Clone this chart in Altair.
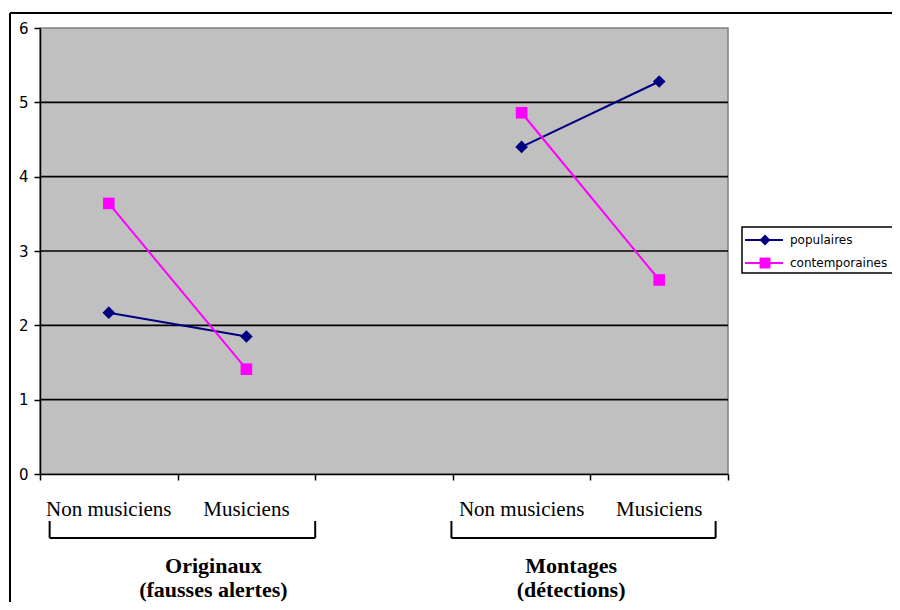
import altair as alt
import pandas as pd

# ---- data ----
series = ["populaires", "contemporaines"]
slot = [0, 1, 3, 4]                      # category slot (slot 2 is the empty gap)
group = ["Originaux", "Originaux", "Montages", "Montages"]
cat_labels = ["Non musiciens", "Musiciens", "Non musiciens", "Musiciens"]
populaires = [2.17, 1.85, 4.40, 5.28]
contemporaines = [3.64, 1.41, 4.86, 2.61]
y_ticks = [0, 1, 2, 3, 4, 5, 6]
gridlines = [1, 2, 3, 4, 5]
group_titles = ["Originaux", "Montages"]
group_subtitles = ["(fausses alertes)", "(détections)"]

rows = []
for name, vals in zip(series, [populaires, contemporaines]):
    for s, g, v in zip(slot, group, vals):
        rows.append({"series": name, "pos": s + 0.5, "group": g, "value": v})
df = pd.DataFrame(rows)

lab_df = pd.DataFrame({"pos": [s + 0.5 for s in slot], "label": cat_labels})
title_df = pd.DataFrame({"pos": [1.26, 3.86], "t1": group_titles, "t2": group_subtitles})
bracket_df = pd.DataFrame({"x0": [0.07, 2.99], "x1": [2.0, 4.91]})
grid_df = pd.DataFrame({"value": gridlines})
one = pd.DataFrame({"a": [0]})

xs = alt.Scale(domain=[0, 5], nice=False, zero=False)
ys = alt.Scale(domain=[0, 6], nice=False)
col = alt.Scale(domain=series, range=["#000080", "#ff00ff"])

X = alt.X("pos:Q", scale=xs,
          axis=alt.Axis(values=[0, 1, 2, 3, 4, 5], labels=False, grid=False, title=None))
Y = alt.Y("value:Q", scale=ys,
          axis=alt.Axis(values=y_ticks, format="d", grid=False, title=None,
                        labelFontSize=15, labelPadding=6))

grid = alt.Chart(grid_df).mark_rule(color="black", strokeWidth=1.6).encode(y=Y)

lines = alt.Chart(df).mark_line(strokeWidth=2).encode(
    x=X, y=Y,
    color=alt.Color("series:N", scale=col, legend=None),
    detail="group:N")

points = alt.Chart(df).mark_point(filled=True, opacity=1).encode(
    x="pos:Q", y="value:Q",
    color=alt.Color("series:N", scale=col, legend=None),
    shape=alt.Shape("series:N", scale=alt.Scale(domain=series, range=["diamond", "square"]), legend=None),
    size=alt.Size("series:N", scale=alt.Scale(domain=series, range=[160, 135]), legend=None))

cat_text = alt.Chart(lab_df).mark_text(font="Liberation Serif", fontSize=21, color="black").encode(
    x="pos:Q", y=alt.value(482), text="label:N")

t1 = alt.Chart(title_df).mark_text(font="Liberation Serif", fontSize=22, fontWeight="bold",
                                    color="black").encode(x="pos:Q", y=alt.value(538), text="t1:N")
t2 = alt.Chart(title_df).mark_text(font="Liberation Serif", fontSize=22, fontWeight="bold",
                                    color="black").encode(x="pos:Q", y=alt.value(562), text="t2:N")

br_h = alt.Chart(bracket_df).mark_rule(color="black", strokeWidth=2).encode(
    x="x0:Q", x2="x1:Q", y=alt.value(510))
br_l = alt.Chart(bracket_df).mark_rule(color="black", strokeWidth=2).encode(
    x="x0:Q", y=alt.value(493), y2=alt.value(510))
br_r = alt.Chart(bracket_df).mark_rule(color="black", strokeWidth=2).encode(
    x="x1:Q", y=alt.value(493), y2=alt.value(510))

# outer frame
frame_top = alt.Chart(one).mark_rule(color="black", strokeWidth=2).encode(
    x=alt.value(-30), x2=alt.value(900), y=alt.value(-15))
frame_left = alt.Chart(one).mark_rule(color="black", strokeWidth=2).encode(
    x=alt.value(-30), y=alt.value(-15), y2=alt.value(640))

# legend
leg_box = alt.Chart(one).mark_rect(fill="white", stroke="black", strokeWidth=1.5).encode(
    x=alt.value(702), x2=alt.value(880), y=alt.value(199), y2=alt.value(245))
leg_items = []
for i, (name, shp, c, sz) in enumerate(zip(series, ["diamond", "square"], ["#000080", "#ff00ff"], [120, 120])):
    yy = 212 + 23 * i
    leg_items.append(alt.Chart(one).mark_rule(color=c, strokeWidth=2).encode(
        x=alt.value(705), x2=alt.value(743), y=alt.value(yy)))
    leg_items.append(alt.Chart(one).mark_point(filled=True, opacity=1, shape=shp, color=c, size=sz).encode(
        x=alt.value(725), y=alt.value(yy)))
    leg_items.append(alt.Chart(one).mark_text(align="left", baseline="middle", font="DejaVu Sans",
                                              fontSize=12, color="black", text=name).encode(
        x=alt.value(750), y=alt.value(yy)))

chart = alt.layer(grid, lines, points, cat_text, t1, t2, br_h, br_l, br_r,
                  frame_top, frame_left, leg_box, *leg_items).properties(
    width=688, height=446,
    autosize=alt.AutoSizeParams(type="none"),
    padding={"left": 32, "top": 20, "right": 164, "bottom": 128},
    background="white",
).configure_view(fill="#c0c0c0", stroke="#808080", strokeWidth=1.5
).configure_axis(
    tickSize=6, tickColor="black", tickWidth=1.5,
    domainColor="black", domainWidth=1.5,
    labelFont="DejaVu Sans", labelFontSize=15, labelColor="black", labelPadding=6,
)

chart.save("out.html", embed_options={"renderer": "svg", "actions": False})
